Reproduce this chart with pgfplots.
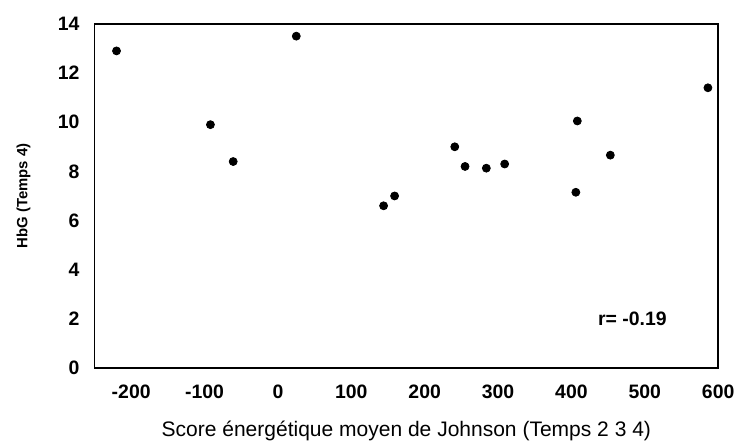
\documentclass[border=0pt]{standalone}
\usepackage{pgfplots}
\pgfplotsset{compat=1.18}
\usepackage{fontspec}
\setmainfont{Liberation Sans}
\begin{document}
\begin{tikzpicture}
\begin{axis}[
    scale only axis,
    width=313.5bp,
    height=173bp,
    xmin=-250, xmax=600,
    ymin=0, ymax=14,
    xtick={-200,-100,0,100,200,300,400,500,600},
    ytick={0,2,4,6,8,10,12,14},
    major tick length=0pt,
    axis line style={line width=0.9pt},
    /pgf/number format/assume math mode=true,
    tick label style={font=\fontsize{9.8}{11}\selectfont\bfseries},
    xticklabel style={yshift=-5bp},
    yticklabel style={xshift=-4bp},
    xlabel={Score énergétique moyen de Johnson (Temps 2 3 4)},
    ylabel={HbG (Temps 4)},
    xlabel style={font=\fontsize{10.6}{12}\selectfont, yshift=-4.5bp},
    ylabel style={font=\fontsize{7.5}{9}\selectfont\bfseries, yshift=7bp},
    clip=false,
]
\addplot[only marks, mark=*, mark size=2bp, black] coordinates {
    (-220,12.9)
    (25,13.5)
    (-92,9.9)
    (-61,8.4)
    (586,11.4)
    (408,10.05)
    (241,9.0)
    (255,8.2)
    (284,8.13)
    (309,8.3)
    (453,8.66)
    (406,7.15)
    (159,7.0)
    (144,6.6)
};
\node[font=\fontsize{9.8}{11}\selectfont\bfseries] at (axis cs:483,2.0) {r= -0.19};
\end{axis}
\path[use as bounding box] (current axis.south west) ++(-47.5bp,-35.5bp) rectangle ++(370.5bp,220.5bp);
\end{tikzpicture}
\end{document}
